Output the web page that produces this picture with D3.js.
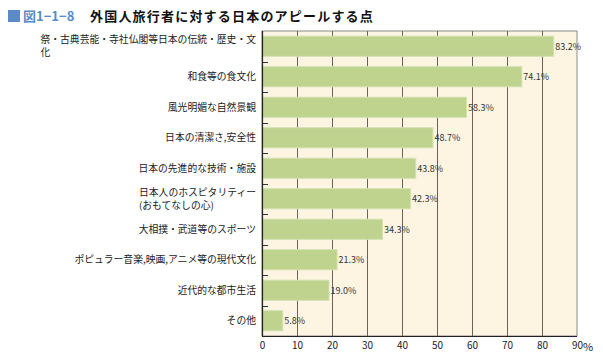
<!DOCTYPE html>
<html><head><meta charset="utf-8">
<script src="https://cdn.jsdelivr.net/npm/d3@7"></script>
<style>
body{margin:0;background:#fff;}
text{font-family:"Noto Sans CJK JP","Noto Sans",sans-serif;}
</style></head>
<body><svg id="c" width="603" height="360"></svg>
<script>
const categories = [
  ["祭・古典芸能・寺社仏閣等日本の伝統・歴史・文","化"],
  ["和食等の食文化"],
  ["風光明媚な自然景観"],
  ["日本の清潔さ,安全性"],
  ["日本の先進的な技術・施設"],
  ["日本人のホスピタリティー","(おもてなしの心)"],
  ["大相撲・武道等のスポーツ"],
  ["ポピュラー音楽,映画,アニメ等の現代文化"],
  ["近代的な都市生活"],
  ["その他"]
];
const values = [83.2, 74.1, 58.3, 48.7, 43.8, 42.3, 34.3, 21.3, 19.0, 5.8];
const xTicks = [0,10,20,30,40,50,60,70,80,90];

const svg = d3.select("#c");
const L = 262, R = 577, T = 31, B = 336;
const x = d3.scaleLinear().domain([0,90]).range([L,R]);
const y = d3.scaleBand().domain(d3.range(categories.length)).range([T,B]).paddingInner(0.34).paddingOuter(0.17);
const yb = d3.scaleBand().domain(d3.range(categories.length)).range([T,B]);

// title
svg.append("rect").attr("x",8).attr("y",10).attr("width",12).attr("height",12).attr("fill","#5b8ac6");
svg.append("text").attr("x",23).attr("y",21).attr("fill","#5b8ac6").attr("font-size",13).attr("font-weight","bold").text("図1−1−8");
svg.append("text").attr("x",90).attr("y",21).attr("fill","#111").attr("font-size",13).attr("font-weight","bold").attr("letter-spacing",1.2).text("外国人旅行者に対する日本のアピールする点");

// plot background
svg.append("rect").attr("x",L).attr("y",T).attr("width",R-L).attr("height",B-T).attr("fill","#fdf5e1").attr("stroke","#8a8a8a").attr("stroke-width",1);

// grid
svg.append("g").selectAll("line").data(xTicks.slice(1,-1)).join("line")
  .attr("x1",d=>Math.round(x(d))+0.5).attr("x2",d=>Math.round(x(d))+0.5).attr("y1",T).attr("y2",B)
  .attr("stroke","#6e6258").attr("stroke-width",1);

// bars
svg.append("g").selectAll("rect").data(values).join("rect")
  .attr("x",L+0.5).attr("y",(d,i)=>y(i)).attr("width",d=>x(d)-L).attr("height",y.bandwidth())
  .attr("fill","#bdd38e").attr("stroke","#d3e2b2").attr("stroke-width",1);

// value labels
svg.append("g").selectAll("text").data(values).join("text")
  .attr("x",d=>x(d)+2).attr("y",(d,i)=>y(i)+y.bandwidth()/2+3.5)
  .attr("font-size",9).attr("fill","#333").text(d=>d.toFixed(1)+"%");

// left ticks (inside, at band boundaries)
svg.append("g").selectAll("line").data(d3.range(1,categories.length)).join("line")
  .attr("x1",L).attr("x2",L+6).attr("y1",d=>Math.round(yb(d))+0.5).attr("y2",d=>Math.round(yb(d))+0.5)
  .attr("stroke","#333").attr("stroke-width",1);

// axes lines
svg.append("line").attr("x1",L+0.5).attr("x2",L+0.5).attr("y1",T).attr("y2",B).attr("stroke","#222").attr("stroke-width",1.2);
svg.append("line").attr("x1",L).attr("x2",R).attr("y1",B+0.5).attr("y2",B+0.5).attr("stroke","#222").attr("stroke-width",1.2);

// x tick labels
const xa = d3.axisBottom(x).tickValues(xTicks).tickSize(0).tickPadding(6);
const gx = svg.append("g").attr("transform",`translate(0,${B})`).call(xa);
gx.select(".domain").remove();
gx.selectAll("text").attr("font-size",10).attr("fill","#222").attr("font-family","Liberation Sans, Arial, sans-serif");
svg.append("text").attr("x",x(90)+6).attr("y",B+15).attr("font-size",11).attr("fill","#222").text("%");

// category labels
const cg = svg.append("g");
categories.forEach((lines,i)=>{
  const cy = yb(i)+yb.bandwidth()/2;
  const t = cg.append("text").attr("font-size",9.8).attr("fill","#222");
  const n = lines.length;
  lines.forEach((s,k)=>{
    t.append("tspan").attr("y",cy+3.5+(k-(n-1)/2)*13).text(s);
  });
  let maxW = 0;
  t.selectAll("tspan").each(function(){maxW=Math.max(maxW,this.getComputedTextLength());});
  t.selectAll("tspan").attr("x",256-maxW);
});
</script></body></html>
